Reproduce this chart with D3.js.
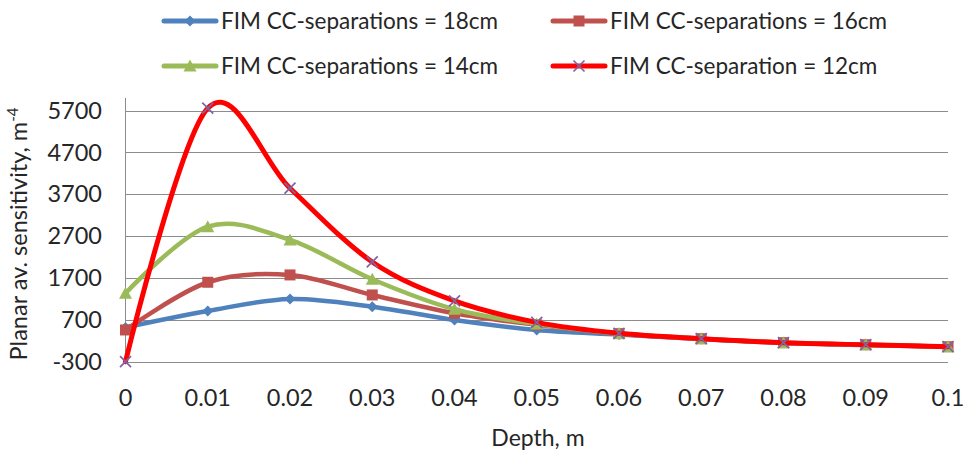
<!DOCTYPE html>
<html>
<head>
<meta charset="utf-8">
<script src="https://cdn.jsdelivr.net/npm/d3@7"></script>
<style>
	body { margin: 0; background: #fff; }
	text { font-family: Lato, "Open Sans", sans-serif; fill: #262626; }
</style>
</head>
<body>
<svg id="chart" width="969" height="453"></svg>
<script>
	// values
	var depth = [0, 0.01, 0.02, 0.03, 0.04, 0.05, 0.06, 0.07, 0.08, 0.09, 0.1];
	var sep18 = [520, 912, 1199, 1015, 697, 460, 350, 240, 150, 100, 55];
	var sep16 = [458, 1598, 1773, 1295, 857, 580, 370, 250, 155, 105, 58];
	var sep14 = [1335, 2927, 2609, 1670, 953, 600, 375, 250, 155, 105, 58];
	var sep12 = [-300, 5757, 3845, 2083, 1151, 640, 379, 250, 154, 106, 59];
	var seriesNames = ["FIM CC-separations = 18cm", "FIM CC-separations = 16cm",
		"FIM CC-separations = 14cm", "FIM CC-separation = 12cm"];
	var yTicks = [-300, 700, 1700, 2700, 3700, 4700, 5700];
	var xTicks = depth;

	var series = [
		{name: seriesNames[0], values: sep18, color: "#4F81BD", marker: "diamond"},
		{name: seriesNames[1], values: sep16, color: "#C0504D", marker: "square"},
		{name: seriesNames[2], values: sep14, color: "#9BBB59", marker: "triangle"},
		{name: seriesNames[3], values: sep12, color: "#FF0000", marker: "cross"}
	];

	var svg = d3.select("#chart");
	var x = d3.scaleLinear().domain([0, 0.1]).range([125.5, 948]);
	var y = d3.scaleLinear().domain([-300, 6000]).range([361.7, 98]);

	//gridlines + axis line
	svg.append("g").selectAll("line").data(yTicks).enter().append("line")
		.attr("x1", x(0)).attr("x2", x(0.1))
		.attr("y1", function(d){ return Math.round(y(d)) + 0.5; })
		.attr("y2", function(d){ return Math.round(y(d)) + 0.5; })
		.attr("stroke", "#8c8c8c").attr("stroke-width", 1);
	svg.append("line")
		.attr("x1", x(0)).attr("x2", x(0))
		.attr("y1", y(6000)).attr("y2", y(-300))
		.attr("stroke", "#8c8c8c");

	//tick labels
	svg.append("g").selectAll("text").data(yTicks).enter().append("text")
		.attr("x", 102).attr("y", function(d){ return y(d); })
		.attr("dy", "0.35em").attr("text-anchor", "end")
		.style("font-size", "23.5px")
		.text(function(d){ return d; });
	svg.append("g").selectAll("text").data(xTicks).enter().append("text")
		.attr("x", function(d){ return x(d); }).attr("y", 398)
		.attr("dy", "0.35em").attr("text-anchor", "middle")
		.style("font-size", "23.5px")
		.text(function(d){ return d3.format("~g")(d); });

	//axis titles
	svg.append("text").attr("x", 538).attr("y", 438).attr("dy", "0.35em")
		.attr("text-anchor", "middle").style("font-size", "23px").text("Depth, m");
	var yt = svg.append("text")
		.attr("transform", "translate(19,234) rotate(-90)")
		.attr("dy", "0.35em").attr("text-anchor", "middle").style("font-size", "23.5px");
	yt.append("tspan").text("Planar av. sensitivity, m");
	yt.append("tspan").attr("baseline-shift", "super").style("font-size", "15px").text("-4");

	function drawMarker(g, type, color, cx, cy){
		if (type === "diamond") {
			g.append("path").attr("d", "M0,-5.5L5.5,0L0,5.5L-5.5,0Z")
				.attr("transform", "translate(" + cx + "," + cy + ")").attr("fill", color);
		} else if (type === "square") {
			g.append("rect").attr("x", cx - 5.5).attr("y", cy - 5.5)
				.attr("width", 11).attr("height", 11).attr("fill", color);
		} else if (type === "triangle") {
			g.append("path").attr("d", "M0,-6.5L6.5,5.5L-6.5,5.5Z")
				.attr("transform", "translate(" + cx + "," + cy + ")").attr("fill", color);
		} else {
			g.append("path").attr("d", "M-5.5,-5.5L5.5,5.5M-5.5,5.5L5.5,-5.5")
				.attr("transform", "translate(" + cx + "," + cy + ")")
				.attr("stroke", "#8064A2").attr("stroke-width", 1.7).attr("fill", "none");
		}
	}

	var line = d3.line().curve(d3.curveCardinal.tension(0))
		.x(function(d, i){ return x(depth[i]); })
		.y(function(d){ return y(d); });

	series.forEach(function(s){
		var g = svg.append("g");
		g.append("path").attr("d", line(s.values))
			.attr("fill", "none").attr("stroke", s.color)
			.attr("stroke-width", s.marker === "cross" ? 5 : 4.5)
			.attr("stroke-linejoin", "round").attr("stroke-linecap", "round");
		s.values.forEach(function(v, i){
			drawMarker(g, s.marker, s.color, x(depth[i]), y(v));
		});
	});

	//legend, two rows
	var legendPos = [[164, 21], [553, 21], [164, 66], [553, 66]];
	series.forEach(function(s, i){
		var lx = legendPos[i][0], ly = legendPos[i][1];
		var g = svg.append("g");
		g.append("line").attr("x1", lx).attr("x2", lx + 52)
			.attr("y1", ly).attr("y2", ly)
			.attr("stroke", s.color).attr("stroke-width", 5).attr("stroke-linecap", "round");
		drawMarker(g, s.marker, s.color, lx + 26, ly);
		g.append("text").attr("x", lx + 57).attr("y", ly).attr("dy", "0.35em")
			.style("font-size", "22.5px").text(s.name);
	});
</script>
</body>
</html>
